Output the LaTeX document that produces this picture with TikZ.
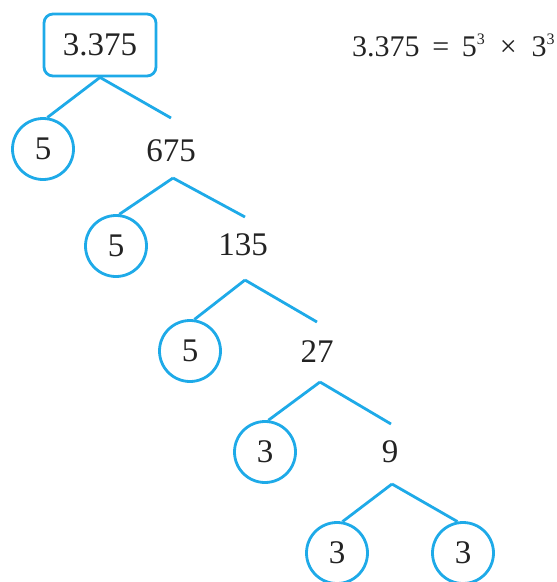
\documentclass[tikz,border=0pt]{standalone}
\usepackage{fontspec}
\setmainfont{Liberation Serif}
\definecolor{linkblue}{RGB}{30,170,232}
\definecolor{txt}{RGB}{35,35,35}
\newcommand{\supthree}{\raisebox{0.4em}{\fontsize{16}{16}\selectfont 3}}
\begin{document}
\begin{tikzpicture}[x=1pt,y=-1pt,
  link/.style={draw=linkblue,line width=2.8pt},
  circ/.style={circle,draw=linkblue,line width=2.8pt,minimum size=61pt,inner sep=0pt,text=txt,font=\fontsize{33}{33}\selectfont},
  num/.style={inner sep=0pt,text=txt,font=\fontsize{33}{33}\selectfont},
  rootbox/.style={rectangle,rounded corners=9pt,draw=linkblue,line width=2.8pt,minimum width=112pt,minimum height=62pt,text=txt,font=\fontsize{33}{33}\selectfont}]
\useasboundingbox (0,0) rectangle (557,582);
% nodes
\node[rootbox] (root) at (100,45) {3.375};
\node[circ] (c1) at (43,149) {5};
\node[num] (n675) at (171,151) {675};
\node[circ] (c2) at (116,246) {5};
\node[num] (n135) at (243,245) {135};
\node[circ] (c3) at (190,351) {5};
\node[num] (n27) at (317,352) {27};
\node[circ] (c4) at (265,452) {3};
\node[num] (n9) at (390,452) {9};
\node[circ] (c5) at (337,553) {3};
\node[circ] (c6) at (463,553) {3};
% fork points and free ends
\coordinate (f2) at (173,178);
\coordinate (f3) at (245,280);
\coordinate (f4) at (320,382);
\coordinate (f5) at (392,484);
\coordinate (e1) at (171,118);
\coordinate (e2) at (245,217);
\coordinate (e3) at (317,322);
\coordinate (e4) at (391,424);
% connectors
\draw[link] (root.south) -- (c1.82);
\draw[link] (root.south) -- (e1);
\draw[link] (f2) -- (c2.84);
\draw[link] (f2) -- (e2);
\draw[link] (f3) -- (c3.82);
\draw[link] (f3) -- (e3);
\draw[link] (f4) -- (c4.84);
\draw[link] (f4) -- (e4);
\draw[link] (f5) -- (c5.80);
\draw[link] (f5) -- (c6.100);
% equation
\node[num,anchor=west,font=\fontsize{30}{30}\selectfont] (eq) at (352,45) {3.375\hspace{0.42em}=\hspace{0.42em}5\supthree\hspace{0.5em}×\hspace{0.5em}3\supthree};
\end{tikzpicture}
\end{document}
